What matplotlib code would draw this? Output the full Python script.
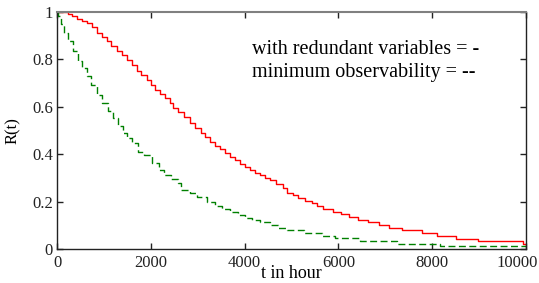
import matplotlib
matplotlib.use("Agg")
import matplotlib.pyplot as plt
import matplotlib.transforms as mtransforms

# Red: with redundant variables (step survival curve)
red_t = [0, 230, 330, 420, 530, 633, 740, 846, 950, 1060, 1160, 1273, 1380, 1486,
         1590, 1699, 1800, 1912, 2000, 2090, 2200, 2303, 2400, 2480, 2580, 2700,
         2836, 2950, 3060, 3160, 3262, 3370, 3480, 3590, 3689, 3800, 3900, 4000,
         4115, 4230, 4330, 4440, 4542, 4680, 4825, 4900, 5039, 5146, 5288, 5430,
         5537, 5665, 5878, 6055, 6233, 6411, 6638, 6873, 7086, 7349, 7775, 8109,
         8507, 8969, 9943, 10000]
red_r = [1.0, 0.993, 0.985, 0.970, 0.962, 0.954, 0.935, 0.911, 0.895, 0.876, 0.857,
         0.834, 0.818, 0.799, 0.775, 0.750, 0.733, 0.714, 0.693, 0.672, 0.655, 0.637,
         0.615, 0.595, 0.578, 0.556, 0.530, 0.510, 0.490, 0.472, 0.453, 0.436, 0.420,
         0.405, 0.390, 0.374, 0.360, 0.347, 0.333, 0.322, 0.311, 0.300, 0.291, 0.273,
         0.256, 0.238, 0.226, 0.214, 0.203, 0.193, 0.181, 0.169, 0.157, 0.146, 0.135,
         0.122, 0.113, 0.101, 0.090, 0.079, 0.066, 0.055, 0.044, 0.034, 0.022, 0.022]

# Green: minimum observability (step survival curve)
green_t = [0, 30, 90, 157, 242, 350, 455, 525, 633, 718, 846, 952, 1095, 1201, 1308,
           1414, 1485, 1606, 1734, 1862, 2019, 2175, 2288, 2431, 2573, 2650, 2836,
           2978, 3191, 3369, 3511, 3689, 3866, 4009, 4151, 4328, 4542, 4719, 4897,
           5266, 5643, 5927, 6461, 7242, 8166, 10000]
green_r = [1.0, 0.985, 0.950, 0.911, 0.876, 0.834, 0.792, 0.764, 0.729, 0.693, 0.651,
           0.616, 0.581, 0.553, 0.518, 0.488, 0.467, 0.446, 0.411, 0.397, 0.362, 0.333,
           0.312, 0.294, 0.277, 0.250, 0.235, 0.218, 0.200, 0.183, 0.169, 0.157, 0.143,
           0.129, 0.122, 0.113, 0.101, 0.090, 0.080, 0.069, 0.055, 0.045, 0.035, 0.022,
           0.012, 0.012]

x_ticks = [0, 2000, 4000, 6000, 8000, 10000]
x_tick_labels = ["0", "2000", "4000", "6000", "8000", "10000"]
y_ticks = [0, 0.2, 0.4, 0.6, 0.8, 1]
y_tick_labels = ["0", "0.2", "0.4", "0.6", "0.8", "1"]

plt.rcParams['font.family'] = ['Liberation Serif', 'DejaVu Serif']

fig = plt.figure(figsize=(5.39, 2.83), dpi=100)
ax = fig.add_axes([57/539, 34/283, 469/539, 237/283])

ax.plot(red_t, red_r, drawstyle='steps-post', color='red', lw=1.0)
ax.plot(green_t, green_r, drawstyle='steps-post', color='#008000', lw=1.0,
        dashes=(5, 2.5))

ax.set_xlim(0, 10000)
ax.set_ylim(0, 1)
ax.set_xticks(x_ticks)
ax.set_xticklabels(x_tick_labels)
ax.set_yticks(y_ticks)
ax.set_yticklabels(y_tick_labels)
ax.tick_params(direction='in', length=4, width=1, top=True, right=True,
               labelsize=12, colors='#222222', pad=3)
ax.tick_params(axis='x', pad=4)

# shift the last x tick label left so it stays inside the figure
last = ax.get_xticklabels()[-1]
last.set_transform(last.get_transform() +
                   mtransforms.ScaledTranslation(-9/100, 0, fig.dpi_scale_trans))

for side in ['left', 'bottom', 'right']:
    ax.spines[side].set_color('#222222')
    ax.spines[side].set_linewidth(1.0)
ax.spines['top'].set_color('#808080')
ax.spines['top'].set_linewidth(1.5)

ax.set_xlabel('t in hour', fontsize=13, labelpad=-4)
ax.set_ylabel('R(t)', fontsize=12, labelpad=8)

ax.text(0.415, 0.84, 'with redundant variables = -', transform=ax.transAxes,
        fontsize=14.5, va='center', ha='left')
ax.text(0.415, 0.743, 'minimum observability = --', transform=ax.transAxes,
        fontsize=14.5, va='center', ha='left')

fig.savefig('out.png', dpi=100)
